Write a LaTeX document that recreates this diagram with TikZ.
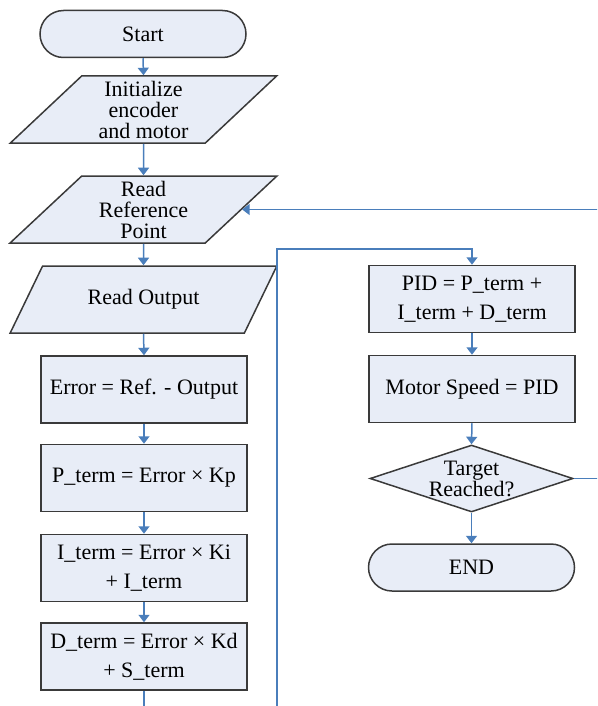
\documentclass[tikz,border=0pt]{standalone}
\usepackage{fontspec}
\setmainfont{Liberation Serif}
\usetikzlibrary{shapes.geometric,shapes.misc,arrows.meta}
\definecolor{flowblue}{HTML}{4A7EBB}
\definecolor{boxfill}{HTML}{E8EDF7}
\definecolor{boxedge}{HTML}{3A3A3A}

\begin{document}
\begin{tikzpicture}[x=1pt,y=-1pt,
  base/.style={draw=boxedge, line width=1.5pt, fill=boxfill, inner sep=0pt,
    font=\fontsize{22}{21}\selectfont, align=center},
  term/.style={base, rounded rectangle, minimum width=206pt, minimum height=47pt},
  io/.style={base, trapezium, trapezium left angle=48, trapezium right angle=132,
    trapezium stretches=true, minimum width=267pt, minimum height=67pt},
  proc/.style={base, rectangle, minimum width=206pt, minimum height=67pt,
    font=\fontsize{22}{29}\selectfont},
  dec/.style={base, diamond, minimum width=203pt, minimum height=67pt},
  flow/.style={draw=flowblue, line width=1.5pt},
  arr/.style={flow, -{Triangle[width=11pt,length=7.5pt]}}
]
\useasboundingbox (0,0) rectangle (597,706);
\clip (0,0) rectangle (597,706);

% main column
\node[term] (start) at (143,34) {Start};
\node[io] (init) at (143.5,109.5) {Initialize\\encoder\\and motor};
\node[io] (ref) at (143.5,209.5) {Read\\Reference\\Point};
\node[io] (out) at (143.5,299.5) {Read Output};
\node[proc] (err) at (144,389.5) {Error = Ref. - Output};
\node[proc] (pterm) at (144,478) {P\_term = Error × Kp};
\node[proc] (iterm) at (144,568) {I\_term = Error × Ki\\+ I\_term};
\node[proc] (dterm) at (144,656.5) {D\_term = Error × Kd\\+ S\_term};

% second column
\node[proc] (pid) at (472,299) {PID = P\_term +\\I\_term + D\_term};
\node[proc] (motor) at (472,389) {Motor Speed = PID};
\node[dec, label={[font=\fontsize{22}{20}\selectfont, align=center]center:Target\\Reached?}] (goal) at (471.5,478.5) {};
\node[term] (stop) at (471.5,567.5) {END};

% turning points of the loops
\coordinate (lowright) at (277,720);
\coordinate (upleft) at (277,249);
\coordinate (farright) at (600,478.5);

% straight flow
\draw[arr] (start.south) -- (init.north);
\draw[arr] (init.south) -- (ref.north);
\draw[arr] (ref.south) -- (out.north);
\draw[arr] (out.south) -- (err.north);
\draw[arr] (err.south) -- (pterm.north);
\draw[arr] (pterm.south) -- (iterm.north);
\draw[arr] (iterm.south) -- (dterm.north);
\draw[arr] (pid.south) -- (motor.north);
\draw[arr] (motor.south) -- (goal.north);
\draw[arr] (goal.south) -- (stop.north);

% column change and feedback loop
\draw[arr] (dterm.south) |- (lowright) -- (upleft) -| (pid.north);
\draw[arr] (goal.east) -- (farright) |- (ref.east);
\end{tikzpicture}
\end{document}
